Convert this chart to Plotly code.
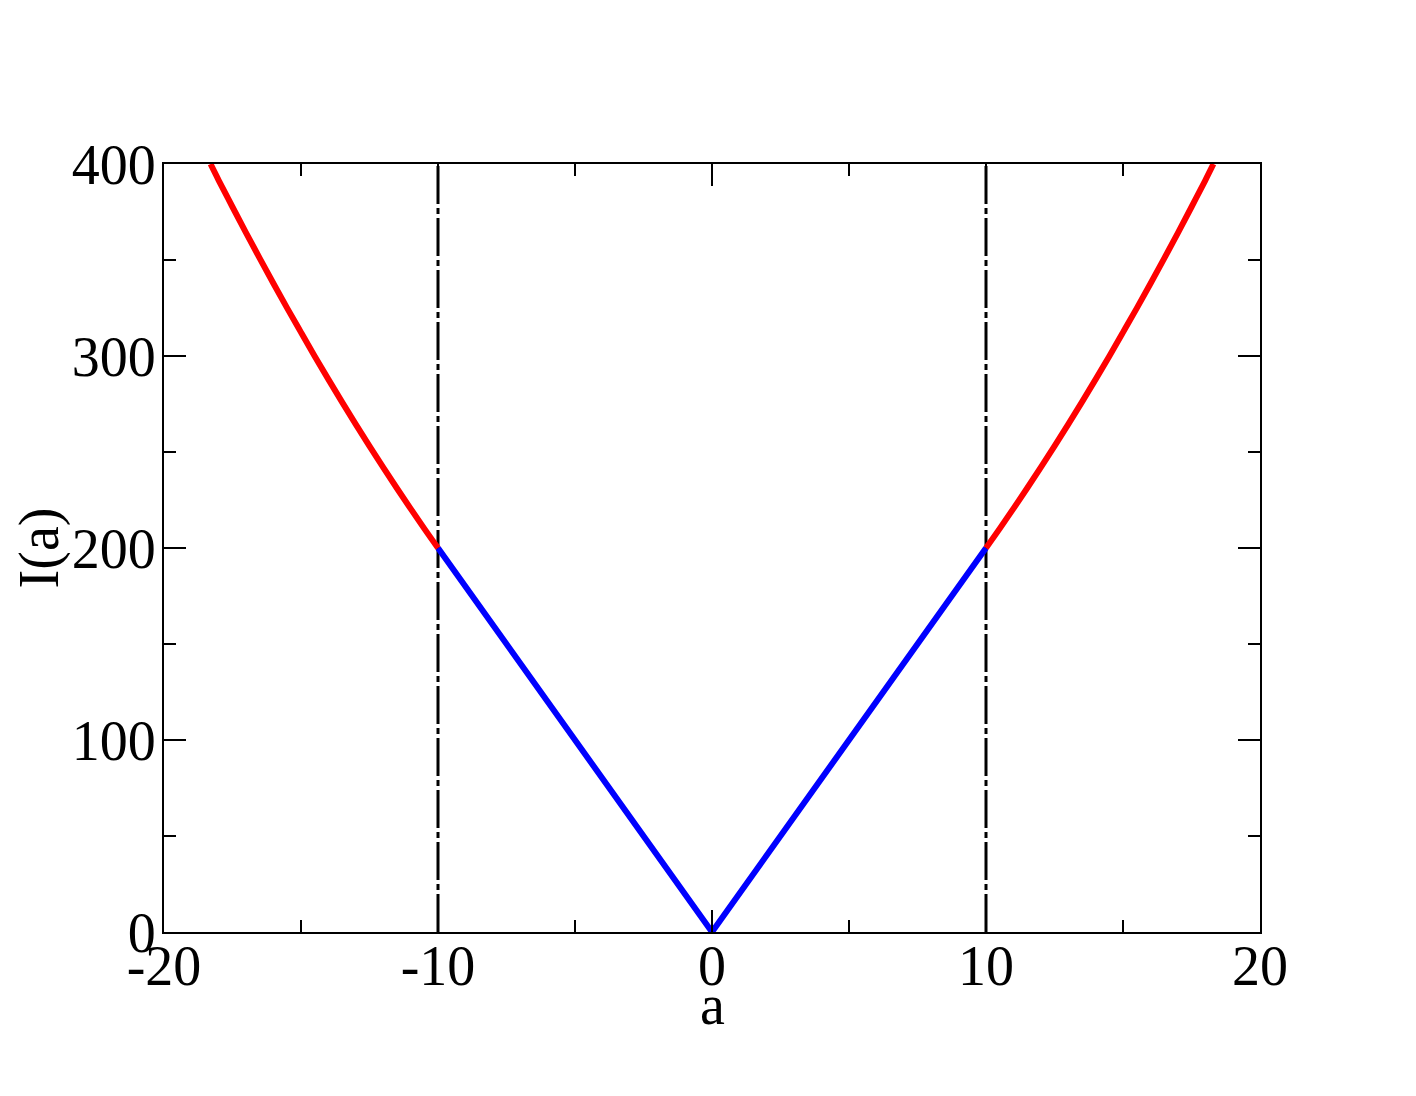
import plotly.graph_objects as go

# blue branch |a| <= 10
blue_a = [-10, -5, 0, 5, 10]
blue_i = [200, 100, 0, 100, 200]

# red branches |a| >= 10
red_abs_a = [10, 10.5, 11, 11.5, 12, 12.5, 13, 13.5, 14, 14.5, 15,
             15.5, 16, 16.5, 17, 17.5, 18, 18.3]
red_i = [200, 210.1, 220.5, 231.1, 242, 253.1, 264.4, 276, 287.8, 299.9, 312.3,
         324.8, 337.6, 350.7, 364, 377.6, 391.4, 400]
red_right_a = red_abs_a
red_left_a = [-v for v in red_abs_a]

# vertical markers
vline_x = [-10, 10]
vline_y = [0, 400]

x_ticks = [-20, -10, 0, 10, 20]
x_ticktext = ["-20", "-10", "0", "10", "20"]
y_ticks = [0, 100, 200, 300, 400]

FONT = "Liberation Serif"
FSIZE = 56

fig = go.Figure()

for xv in vline_x:
    fig.add_trace(go.Scatter(
        x=[xv, xv], y=vline_y, mode="lines",
        line=dict(color="black", width=3, dash="38px,4px,6px,4px"),
        showlegend=False, hoverinfo="skip"
    ))

fig.add_trace(go.Scatter(x=blue_a, y=blue_i, mode="lines",
                         line=dict(color="#0000ff", width=6), showlegend=False))
fig.add_trace(go.Scatter(x=red_right_a, y=red_i, mode="lines",
                         line=dict(color="#ff0000", width=6, shape="spline"),
                         showlegend=False))
fig.add_trace(go.Scatter(x=red_left_a, y=red_i, mode="lines",
                         line=dict(color="#ff0000", width=6, shape="spline"),
                         showlegend=False))

axis_common = dict(
    showline=True, linecolor="black", linewidth=2, mirror="allticks",
    ticks="inside", ticklen=22, tickwidth=2, tickcolor="black",
    showgrid=False, zeroline=False,
    tickfont=dict(family=FONT, size=FSIZE, color="black"),
    minor=dict(ticks="inside", ticklen=12, tickwidth=2, tickcolor="black", showgrid=False),
)

fig.update_xaxes(
    range=[-20, 20], tickvals=x_ticks, ticktext=x_ticktext,
    minor_tickvals=[-15, -5, 5, 15],
    ticklabelstandoff=-16,
    **axis_common
)
fig.update_yaxes(
    range=[0, 400], tickvals=y_ticks,
    minor_tickvals=[50, 150, 250, 350],
    ticklabelstandoff=-5,
    title=dict(text="I(a)", font=dict(family=FONT, size=FSIZE, color="black"), standoff=14),
    **axis_common
)

# x-axis title placed close under the tick labels
fig.add_annotation(
    text="a", x=0.5, y=0, xref="paper", yref="paper",
    xanchor="center", yanchor="top", yshift=-40, showarrow=False,
    font=dict(family=FONT, size=FSIZE, color="black")
)

fig.update_layout(
    width=1416, height=1096,
    margin=dict(l=156, r=164, t=156, b=172),
    plot_bgcolor="white", paper_bgcolor="white",
    showlegend=False
)

fig.write_html("out.html")
